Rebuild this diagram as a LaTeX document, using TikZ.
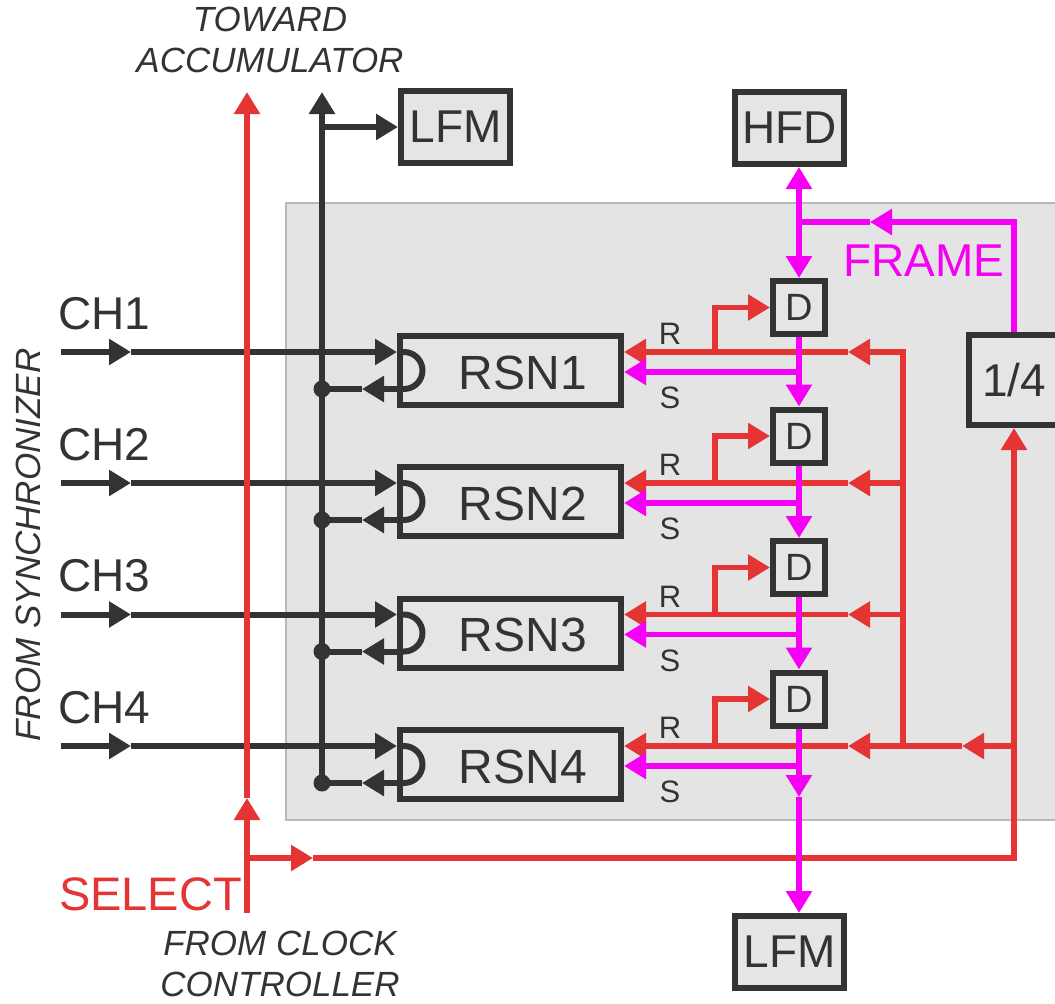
\documentclass[tikz,border=0pt]{standalone}
\usepackage{fontspec}
\setmainfont{Liberation Sans}
\usetikzlibrary{arrows.meta}
\pgfdeclarelayer{panel}
\pgfdeclarelayer{bg}
\pgfsetlayers{panel,bg,main}
\definecolor{cred}{RGB}{229,52,52}
\definecolor{cmag}{RGB}{245,0,245}
\definecolor{cdark}{RGB}{51,51,51}
\definecolor{cfill}{RGB}{229,229,229}
\definecolor{cpanel}{RGB}{228,228,228}
\definecolor{cpborder}{RGB}{185,185,185}
\begin{document}
\begin{tikzpicture}[x=1pt,y=-1pt,
 >={Triangle[length=22pt,width=25pt]},
 blk/.style={draw=cdark,line width=6pt},
 redl/.style={draw=cred,line width=5.5pt},
 magl/.style={draw=cmag,line width=5.5pt},
 box/.style={draw=cdark,line width=6pt,fill=cfill,inner sep=0pt,text=cdark,font=\fontsize{46}{50}\selectfont},
 bigbox/.style={box,minimum width=109pt,minimum height=72pt},
 dbox/.style={box,minimum width=52pt,minimum height=53pt,font=\fontsize{38}{42}\selectfont},
 rsnbox/.style={box,minimum width=221pt,minimum height=69pt},
 lbl/.style={inner sep=0pt,text=cdark,font=\fontsize{46}{50}\selectfont},
 small/.style={inner sep=0pt,text=cdark,font=\fontsize{31}{34}\selectfont},
 ital/.style={inner sep=0pt,text=cdark,font=\itshape\fontsize{35}{41}\selectfont,align=center},
 jdot/.style={circle,fill=cdark,inner sep=0pt,minimum size=17pt}
]
\useasboundingbox (0,0) rectangle (1055,1004);
\begin{pgfonlayer}{panel}
\fill[cpanel,draw=cpborder,line width=1.5pt] (286,203) rectangle (1075,820);
\end{pgfonlayer}

% boxes
\node[bigbox] (lfmT) at (455.5,127) {LFM};
\node[bigbox] (hfd) at (789.5,128) {HFD};
\node[bigbox] (lfmB) at (789.5,952) {LFM};
\node[box,minimum width=90pt,minimum height=90pt] (quart) at (1014,380) {1/4};

\foreach \i/\yc/\yd in {1/370.5/307.5,2/501.5/436,3/633/567.5,4/764.5/699}{
 \node[rsnbox] (rsn\i) at (510.5,\yc) {};
 \node[lbl,font=\fontsize{48}{50}\selectfont] (rsnt\i) at (523,\yc+2) {RSN\i};
 \node[dbox] (d\i) at (799,\yd) {D};
 \node[jdot] (j\i) at (322,\yc+18.5) {};
 \coordinate (chs\i) at (61,\yc-18.5);
 \coordinate (chm\i) at (131,\yc-18.5);
 \coordinate (om\i) at (362,\yc+18.5);
 \coordinate (rr\i) at (903,\yc-18.5);
 \coordinate (rm\i) at (848,\yc-18.5);
 \coordinate (rb\i) at (715,\yc-18.5);
 \coordinate (sb\i) at (799,\yc+1.5);
 \node[lbl,anchor=base west] (ch\i) at (58,\yc-41.5) {CH\i};
 \node[small] (rl\i) at (670,\yc-36.5) {R};
 \node[small] (sl\i) at (670,\yc+27.5) {S};
}

% named free ends / junctions
\coordinate (busT) at (322,92);
\coordinate (busL) at (322,127);
\coordinate (selB) at (247,913);
\coordinate (selM) at (247,798);
\coordinate (selT) at (247,92);
\coordinate (selJ) at (247,858);
\coordinate (selH) at (313,858);
\coordinate (selC) at (1014,858);
\coordinate (rq) at (1014,746);
\coordinate (rqm) at (962,746);
\coordinate (fc) at (1014,222);
\coordinate (fm) at (870,222);
\coordinate (fj) at (799,222);
\coordinate (dm) at (799,797);

\begin{pgfonlayer}{bg}
% black signals
\foreach \i in {1,...,4}{
 \draw[blk,->] (chs\i) -- (chm\i);
 \draw[blk,->] (chm\i) -- (rsn\i.west |- chs\i);
 \draw[blk,->] (rsn\i.west |- om\i) -- (om\i);
 \draw[blk] (om\i) -- (j\i.center);
}
\draw[blk,->] (j4.center) -- (busT);
\draw[blk,->] (busL) -- (lfmT.west);
% red signals
\draw[redl,->] (selB) -- (selM);
\draw[redl,->] (selM) -- (selT);
\draw[redl,->] (selJ) -- (selH);
\draw[redl,->] (selH) -- (selC) -- (quart.south);
\draw[redl,line cap=rect] (rr1) -- (rr4);
\draw[redl,->] (rq) -- (rqm);
\draw[redl] (rqm) -- (rr4);
\foreach \i in {1,...,4}{
 \draw[redl,->] (rr\i) -- (rm\i);
 \draw[redl,->] (rm\i) -- (rsn\i.east |- rr\i);
 \draw[redl,->] (rb\i) -- (rb\i |- d\i.west) -- (d\i.west);
}
% magenta signals
\draw[magl,<->] (hfd.south -| d1.north) -- (d1.north);
\draw[magl,->] (quart.north) -- (fc) -- (fm);
\draw[magl] (fm) -- (fj);
\foreach \i/\j in {1/2,2/3,3/4}{
 \draw[magl,->] (d\i.south) -- (d\j.north);
}
\draw[magl,->] (d4.south) -- (dm);
\draw[magl,->] (dm) -- (lfmB.north -| d4.south);
\foreach \i in {1,...,4}{
 \draw[magl,->] (sb\i) -- (rsn\i.east |- sb\i);
}
\end{pgfonlayer}

% input latches inside RSN blocks
\foreach \yc in {370.5,501.5,633,764.5}{
 \draw[blk] (400,\yc-18.5) -- (404,\yc-18.5) arc[start angle=90,end angle=-90,radius=18.5pt] -- (400,\yc+18.5);
}

% texts
\node[ital] (toward) at (270,40) {TOWARD\\ACCUMULATOR};
\node[ital] (clock) at (280,964) {FROM CLOCK\\CONTROLLER};
\node[ital,rotate=90] (sync) at (28.5,545) {FROM SYNCHRONIZER};
\node[lbl,text=cred,font=\fontsize{47}{50}\selectfont] (sel) at (150.5,894.5) {SELECT};
\node[lbl,text=cmag] (frame) at (924,261) {FRAME};
\end{tikzpicture}
\end{document}
